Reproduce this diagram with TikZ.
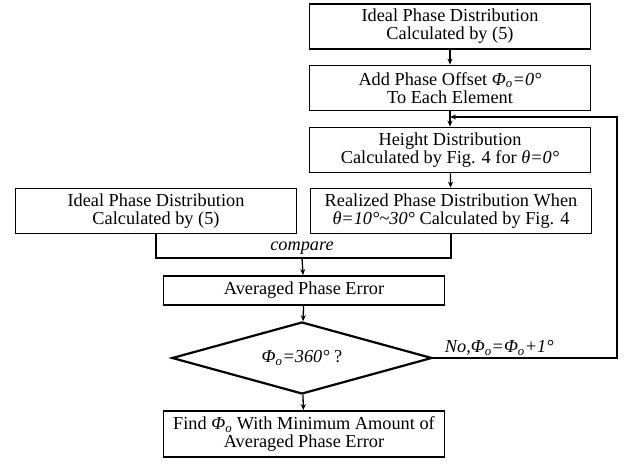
\documentclass[tikz,border=0pt]{standalone}
\usepackage{fontspec}
\setmainfont{Liberation Serif}
\usepackage{tikz}
\usetikzlibrary{shapes,arrows,arrows.meta,positioning,calc}

\newcommand{\Pho}{\textit{Φ\textsubscript{o}}}

\begin{document}
\begin{tikzpicture}[
    x=1pt, y=-1pt,
    font=\fontsize{18.3}{18}\selectfont,
    block/.style={rectangle, draw, line width=1.8pt, minimum width=281pt, minimum height=45pt, align=center, inner sep=1pt},
    decide/.style={diamond, draw, line width=2.2pt, minimum width=260pt, minimum height=72pt, aspect=3.6, inner sep=0pt},
    arrow/.style={->, >={Stealth[length=6pt,width=5pt]}, line width=1.3pt},
    link/.style={line width=1.3pt}
]
    \useasboundingbox (0,0) rectangle (626,462);

    \node[block] (ideal) at (450,26.5) {Ideal Phase Distribution\\Calculated by (5)};
    \node[block] (offset) at (450,88) {Add Phase Offset \textit{Φ\textsubscript{o}=0°}\\To Each Element};
    \node[block] (height) at (450,150) {Height Distribution\\Calculated by Fig. 4 for \textit{θ=0°}};
    \node[block] (real) at (451,211) {Realized Phase Distribution When\\\textit{θ=10°\textasciitilde 30°} Calculated by Fig. 4};
    \node[block] (idealb) at (156,211) {Ideal Phase Distribution\\Calculated by (5)};
    \node[block, minimum height=29pt] (avg) at (304,290.5) {Averaged Phase Error};
    \node[decide] (dia) at (302,358) {\textit{Φ\textsubscript{o}=360°} ?};
    \node[block, minimum height=46pt] (find) at (304,434) {Find \Pho{} With Minimum Amount of\\Averaged Phase Error};

    \coordinate (cmp) at (302,258);
    \coordinate (fb) at (450,117);

    \draw[arrow] (ideal) -- (offset);
    \draw[arrow] (offset) -- (height);
    \draw[arrow] (height) -- (real);
    \draw[link] (idealb.south) |- (cmp) -| (real.south);
    \node[above=0pt of cmp, font=\fontsize{18.3}{18}\selectfont\itshape] (cmplabel) {compare};
    \draw[arrow] (cmp) -- (avg);
    \draw[arrow] (avg) -- (dia);
    \draw[arrow] (dia) -- (find);
    \draw[arrow] (dia.east) -- node[above, pos=0.36, inner sep=2pt] (nolabel) {\textit{No,Φ\textsubscript{o}=Φ\textsubscript{o}+1°}} (617,358) |- (fb);
\end{tikzpicture}
\end{document}
